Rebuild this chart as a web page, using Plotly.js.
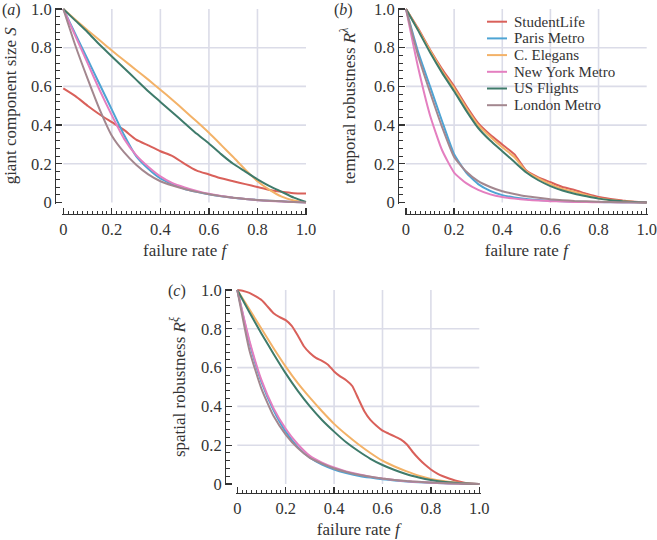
<!DOCTYPE html>
<html><head><meta charset="utf-8">
<script src="https://cdn.plot.ly/plotly-3.0.1.min.js"></script>
<style>body{margin:0;background:#fff}#chart{width:657px;height:540px}</style>
</head><body><div id="chart"></div>
<script>
// ---------- data ----------
const seriesNames = ['StudentLife', 'Paris Metro', 'C. Elegans', 'New York Metro', 'US Flights', 'London Metro'];
const seriesColors = ['#d9605a', '#4ea4d4', '#f3b268', '#e47fc0', '#3f7b6b', '#a3878f'];

const failureRate = [0,0.05,0.1,0.15,0.2,0.25,0.3,0.35,0.4,0.45,0.5,0.55,0.6,0.65,0.7,0.75,0.8,0.85,0.9,0.95,1.0];
const failureRateFine = [0,0.025,0.05,0.075,0.1,0.125,0.15,0.175,0.2,0.225,0.25,0.275,0.3,0.325,0.35,0.375,0.4,0.425,0.45,0.475,0.5,0.525,0.55,0.575,0.6,0.625,0.65,0.675,0.7,0.725,0.75,0.775,0.8,0.825,0.85,0.875,0.9,0.925,0.95,0.975,1.0];

// (a) giant component size S
const giantStudentLife = [0.59,0.55,0.50,0.455,0.415,0.375,0.325,0.295,0.265,0.24,0.20,0.165,0.145,0.125,0.11,0.095,0.08,0.065,0.055,0.048,0.046];
const giantParis       = [1.0,0.87,0.74,0.61,0.48,0.35,0.24,0.175,0.125,0.095,0.07,0.055,0.042,0.032,0.024,0.018,0.013,0.009,0.006,0.003,0.0];
const giantElegans     = [1.0,0.945,0.89,0.838,0.785,0.735,0.685,0.635,0.583,0.53,0.474,0.418,0.36,0.298,0.235,0.17,0.11,0.065,0.03,0.01,0.0];
const giantNewYork     = [1.0,0.86,0.72,0.58,0.45,0.33,0.245,0.185,0.135,0.10,0.078,0.06,0.045,0.034,0.025,0.018,0.012,0.008,0.005,0.002,0.0];
const giantFlights     = [1.0,0.94,0.88,0.815,0.755,0.695,0.635,0.575,0.52,0.465,0.41,0.355,0.305,0.25,0.2,0.16,0.12,0.085,0.055,0.025,0.003];
const giantLondon      = [1.0,0.81,0.64,0.48,0.345,0.26,0.195,0.145,0.11,0.088,0.07,0.055,0.043,0.033,0.025,0.018,0.013,0.009,0.006,0.003,0.0];

// (b) temporal robustness R^lambda
const temporalStudentLife = [1.0,0.9,0.79,0.69,0.6,0.5,0.41,0.35,0.3,0.25,0.165,0.13,0.105,0.08,0.065,0.045,0.028,0.018,0.01,0.004,0.0];
const temporalParis       = [1.0,0.78,0.6,0.42,0.25,0.155,0.095,0.06,0.038,0.026,0.018,0.013,0.009,0.006,0.004,0.003,0.002,0.001,0.0005,0.0,0.0];
const temporalElegans     = [1.0,0.895,0.785,0.68,0.59,0.49,0.4,0.34,0.285,0.235,0.16,0.125,0.095,0.07,0.055,0.038,0.022,0.013,0.007,0.003,0.0];
const temporalNewYork     = [1.0,0.7,0.45,0.27,0.155,0.1,0.065,0.042,0.028,0.02,0.014,0.01,0.007,0.005,0.003,0.002,0.001,0.001,0.0,0.0,0.0];
const temporalFlights     = [1.0,0.89,0.775,0.67,0.575,0.475,0.385,0.32,0.265,0.21,0.155,0.115,0.085,0.062,0.045,0.032,0.02,0.012,0.006,0.002,0.0];
const temporalLondon      = [1.0,0.76,0.57,0.39,0.235,0.16,0.11,0.08,0.058,0.044,0.032,0.024,0.017,0.012,0.008,0.006,0.004,0.002,0.001,0.0005,0.0];

// (c) spatial robustness R^xi
const spatialStudentLife = [1.0,0.995,0.985,0.968,0.948,0.915,0.88,0.86,0.845,0.815,0.765,0.71,0.675,0.65,0.635,0.615,0.58,0.555,0.535,0.505,0.44,0.375,0.33,0.3,0.275,0.26,0.245,0.23,0.205,0.165,0.13,0.1,0.075,0.055,0.04,0.028,0.018,0.01,0.004,0.001,0.0];
const spatialParis       = [1.0,0.73,0.525,0.38,0.27,0.19,0.135,0.1,0.075,0.057,0.043,0.033,0.025,0.018,0.013,0.009,0.006,0.004,0.002,0.001,0.0];
const spatialElegans     = [1.0,0.9,0.8,0.7,0.605,0.52,0.445,0.375,0.31,0.255,0.205,0.16,0.12,0.09,0.065,0.043,0.026,0.015,0.008,0.003,0.0];
const spatialNewYork     = [1.0,0.74,0.535,0.39,0.285,0.205,0.145,0.11,0.085,0.065,0.05,0.038,0.028,0.02,0.014,0.01,0.007,0.004,0.002,0.001,0.0];
const spatialFlights     = [1.0,0.885,0.775,0.67,0.57,0.48,0.4,0.33,0.27,0.215,0.17,0.13,0.098,0.072,0.05,0.034,0.021,0.012,0.006,0.002,0.0];
const spatialLondon      = [1.0,0.69,0.49,0.35,0.255,0.185,0.135,0.105,0.08,0.062,0.048,0.037,0.028,0.021,0.015,0.011,0.008,0.005,0.003,0.001,0.0];

const tickValues = [0, 0.2, 0.4, 0.6, 0.8, 1.0];
const tickLabels = ['0', '0.2', '0.4', '0.6', '0.8', '1.0'];
const gridValues = [0.2, 0.4, 0.6, 0.8];

// ---------- layout helpers ----------
const W = 657, H = 540;
const FONT = 'Liberation Serif, DejaVu Serif, serif';
const INK = '#333333';
const PAD = 0.006;
const TICK_SIZE = 16.5, TITLE_SIZE = 17;

function xDom(p0, p1) { const s = (p1 - p0); return [(p0 - PAD * s) / W, (p1 + PAD * s) / W]; }
function yDom(p1, p0) { const s = (p0 - p1); return [1 - (p0 + PAD * s) / H, 1 - (p1 - PAD * s) / H]; }

function xAxis(dom, posPx, title) {
  return {
    domain: dom, anchor: 'free', position: 1 - posPx / H, range: [-PAD, 1 + PAD],
    tickmode: 'array', tickvals: tickValues, ticktext: tickLabels, ticklabeloverflow: 'allow',
    ticks: 'inside', ticklen: 6, tickwidth: 1.3, tickcolor: INK,
    minor: { tickmode: 'linear', tick0: 0, dtick: 0.02, ticks: 'inside', ticklen: 3, tickwidth: 1, tickcolor: INK, showgrid: false },
    showline: true, linecolor: INK, linewidth: 1.3, showgrid: false, zeroline: false,
    tickfont: { family: FONT, size: TICK_SIZE, color: INK },
    title: { text: title, font: { family: FONT, size: TITLE_SIZE, color: INK }, standoff: 6 }
  };
}
function yAxis(dom, posPx, title, standoff) {
  return {
    domain: dom, anchor: 'free', position: posPx / W, range: [-PAD, 1 + PAD],
    tickmode: 'array', tickvals: tickValues, ticktext: tickLabels, ticklabeloverflow: 'allow',
    ticks: 'inside', ticklen: 6, tickwidth: 1.3, tickcolor: INK,
    minor: { tickmode: 'linear', tick0: 0, dtick: 0.04, ticks: 'inside', ticklen: 3.5, tickwidth: 1, tickcolor: INK, showgrid: false },
    showline: true, linecolor: INK, linewidth: 1.3, showgrid: false, zeroline: false,
    tickfont: { family: FONT, size: TICK_SIZE, color: INK },
    title: { text: title, font: { family: FONT, size: TITLE_SIZE, color: INK }, standoff: standoff }
  };
}

const panels = [
  { xa: 'x', ya: 'y', xs: [failureRate, failureRate, failureRate, failureRate, failureRate, failureRate],
    ys: [giantStudentLife, giantParis, giantElegans, giantNewYork, giantFlights, giantLondon] },
  { xa: 'x2', ya: 'y2', xs: [failureRate, failureRate, failureRate, failureRate, failureRate, failureRate],
    ys: [temporalStudentLife, temporalParis, temporalElegans, temporalNewYork, temporalFlights, temporalLondon] },
  { xa: 'x3', ya: 'y3', xs: [failureRateFine, failureRate, failureRate, failureRate, failureRate, failureRate],
    ys: [spatialStudentLife, spatialParis, spatialElegans, spatialNewYork, spatialFlights, spatialLondon] }
];

const traces = [];
panels.forEach(p => {
  p.ys.forEach((vals, i) => {
    traces.push({
      type: 'scatter', mode: 'lines', name: seriesNames[i], x: p.xs[i], y: vals,
      xaxis: p.xa, yaxis: p.ya, showlegend: false,
      line: { color: seriesColors[i], width: 2, shape: 'spline', smoothing: 0.5 },
      hoverinfo: 'skip'
    });
  });
});

// grid lines as shapes (only at interior ticks)
const shapes = [];
[['x', 'y'], ['x2', 'y2'], ['x3', 'y3']].forEach(([xr, yr]) => {
  gridValues.forEach(g => {
    shapes.push({ type: 'line', xref: xr, yref: yr, x0: g, x1: g, y0: 0, y1: 1, layer: 'below', line: { color: '#dbdce8', width: 1.6 } });
    shapes.push({ type: 'line', xref: xr, yref: yr, x0: 0, x1: 1, y0: g, y1: g, layer: 'below', line: { color: '#dbdce8', width: 1.6 } });
  });
});

// legend drawn in panel (b)
const annotations = [];
const legX0 = 487, legX1 = 507, legTextX = 512, legY0 = 21.7, legStep = 16.7;
seriesNames.forEach((n, i) => {
  const yy = 1 - (legY0 + i * legStep) / H;
  shapes.push({ type: 'line', xref: 'paper', yref: 'paper', x0: legX0 / W, x1: legX1 / W, y0: yy, y1: yy, line: { color: seriesColors[i], width: 2 } });
  annotations.push({ xref: 'paper', yref: 'paper', x: legTextX / W, y: yy, xanchor: 'left', yanchor: 'middle', showarrow: false,
    text: n, font: { family: FONT, size: 15, color: INK } });
});

// panel labels
[['(<i>a</i>)', 0, 9.5], ['(<i>b</i>)', 332, 9.5], ['(<i>c</i>)', 166, 291]].forEach(([t, px, py]) => {
  annotations.push({ xref: 'paper', yref: 'paper', x: px / W, y: 1 - py / H, xanchor: 'left', yanchor: 'middle', showarrow: false,
    text: t, font: { family: FONT, size: 16, color: INK } });
});

const layout = {
  width: W, height: H, margin: { l: 0, r: 0, t: 0, b: 0 },
  paper_bgcolor: '#ffffff', plot_bgcolor: 'rgba(0,0,0,0)', showlegend: false,
  xaxis:  xAxis(xDom(63.3, 306), 213.5, 'failure rate <i>f</i>'),
  yaxis:  yAxis(yDom(9, 202.5), 55, 'giant component size <i>S</i>', 8),
  xaxis2: xAxis(xDom(406, 646.7), 213.5, 'failure rate <i>f</i>'),
  yaxis2: yAxis(yDom(9, 202.5), 398, 'temporal robustness <i>R</i><sup><i>λ</i></sup>', 12),
  xaxis3: xAxis(xDom(237.3, 479.3), 493, 'failure rate <i>f</i>'),
  yaxis3: yAxis(yDom(290, 484), 225, 'spatial robustness <i>R</i><sup><i>ξ</i></sup>', 9),
  shapes: shapes, annotations: annotations
};

Plotly.newPlot('chart', traces, layout, { displayModeBar: false, staticPlot: true });
</script>
</body></html>
